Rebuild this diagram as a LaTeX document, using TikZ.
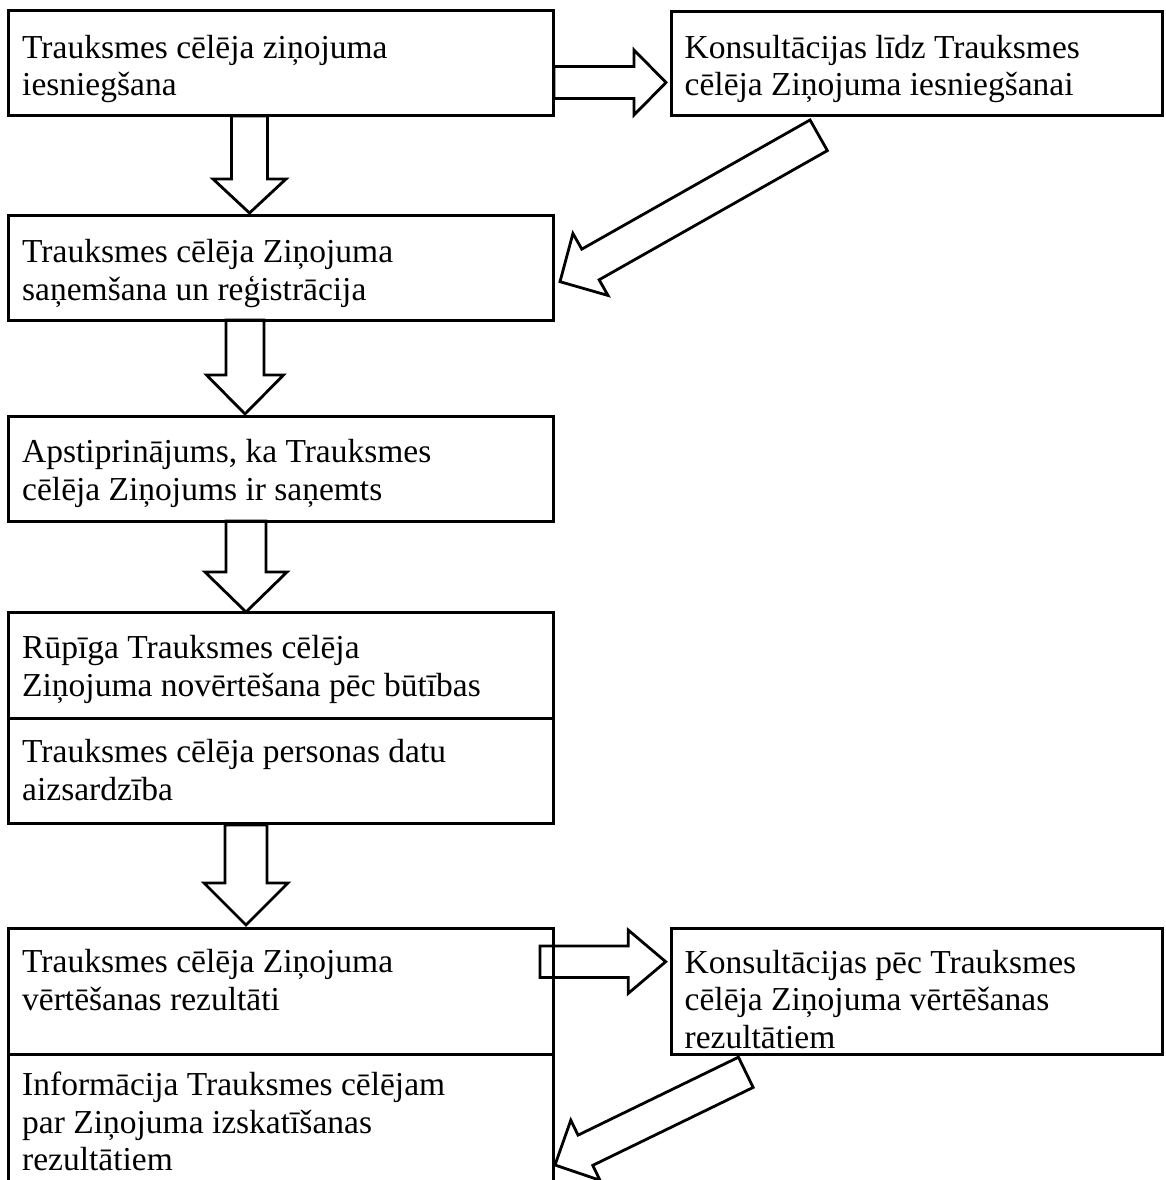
\documentclass[tikz,border=0pt]{standalone}
\usepackage{fontspec}
\setmainfont{Liberation Serif}
\usetikzlibrary{calc,positioning,backgrounds}

\tikzset{
  box/.style={draw, line width=3pt, inner sep=0pt, outer sep=0pt, anchor=north west, minimum width=545pt},
  boxtext/.style={anchor=base west, inner sep=0pt, align=left, font=\fontsize{33.5}{37.5}\selectfont},
  blockarr/.style={draw, fill=white, line width=2.8pt, line join=miter},
}

% tail, tip, half shaft width, half head width, head length
\newcommand{\blockarrow}[5]{%
  \coordinate (hb) at ($(#2)!#5!(#1)$);
  \draw[blockarr] ($(#1)!#3!90:(#2)$) -- ($(hb)!#3!90:(#2)$) -- ($(hb)!#4!90:(#2)$) -- (#2)
    -- ($(hb)!#4!-90:(#2)$) -- ($(hb)!#3!-90:(#2)$) -- ($(#1)!#3!-90:(#2)$) -- cycle;
}

\begin{document}
\begin{tikzpicture}[x=1pt,y=-1pt]
    \useasboundingbox (0,0) rectangle (1165,1180);
    \clip (0,0) rectangle (1165,1180);
    % boxes
    \node[box, minimum height=105pt] (b1) at (8,11) {};
    \node[box, minimum width=491pt, minimum height=104pt] (b2) at (671,12) {};
    \node[box, minimum height=105pt] (b3) at (8,215) {};
    \node[box, minimum height=105pt] (b4) at (8,416) {};
    \node[box, minimum height=106pt] (b5a) at (8,612) {};
    \node[box, minimum height=105pt] (b5b) at (8,718) {};
    \node[box, minimum height=126pt] (b6a) at (8,928) {};
    \node[box, minimum height=200pt] (b6b) at (8,1054) {};
    \node[box, minimum width=491pt, minimum height=126pt] (b7) at (671,928) {};
    % texts (base = last line)
    \node[boxtext] (t1) at ($(b1.north west)+(14,85)$) {Trauksmes cēlēja ziņojuma\\iesniegšana};
    \node[boxtext] (t2) at ($(b2.north west)+(13.5,84)$) {Konsultācijas līdz Trauksmes\\cēlēja Ziņojuma iesniegšanai};
    \node[boxtext] (t3) at ($(b3.north west)+(14,85)$) {Trauksmes cēlēja Ziņojuma\\saņemšana un reģistrācija};
    \node[boxtext] (t4) at ($(b4.north west)+(14,84)$) {Apstiprinājums, ka Trauksmes\\cēlēja Ziņojums ir saņemts};
    \node[boxtext] (t5a) at ($(b5a.north west)+(14,84)$) {Rūpīga Trauksmes cēlēja\\Ziņojuma novērtēšana pēc būtības};
    \node[boxtext] (t5b) at ($(b5b.north west)+(14,82)$) {Trauksmes cēlēja personas datu\\aizsardzība};
    \node[boxtext] (t6a) at ($(b6a.north west)+(14,82)$) {Trauksmes cēlēja Ziņojuma\\vērtēšanas rezultāti};
    \node[boxtext] (t7) at ($(b7.north west)+(13.5,120)$) {Konsultācijas pēc Trauksmes\\cēlēja Ziņojuma vērtēšanas\\rezultātiem};
    \node[boxtext] (t6b) at ($(b6b.north west)+(14,116.5)$) {Informācija Trauksmes cēlējam\\par Ziņojuma izskatīšanas\\rezultātiem};
    % arrow ends
    \coordinate (a1s) at ($(b1.south west)+(241.5,0)$);
    \coordinate (a1e) at ($(b3.north west)+(241.5,-2)$);
    \coordinate (a2s) at ($(b3.south west)+(237,0)$);
    \coordinate (a2e) at ($(b4.north west)+(237,-2)$);
    \coordinate (a3s) at ($(b4.south west)+(238,0)$);
    \coordinate (a3e) at ($(b5a.north west)+(238,0)$);
    \coordinate (a4s) at ($(b5b.south west)+(238,2)$);
    \coordinate (a4e) at ($(b6a.north west)+(238,-3)$);
    \coordinate (r1s) at ($(b1.north east)+(1,71.5)$);
    \coordinate (r1e) at ($(b2.north west)+(-5,70.5)$);
    \coordinate (r2s) at ($(b6a.north east)+(-13,33.7)$);
    \coordinate (r2e) at ($(b7.north west)+(-5.3,33.7)$);
    \coordinate (d1s) at ($(b2.south west)+(147.7,19.3)$);
    \coordinate (d1e) at ($(b3.north east)+(7,66.7)$);
    \coordinate (d2s) at ($(b7.south west)+(74.8,18.3)$);
    \coordinate (d2e) at ($(b6b.north east)+(2,111)$);
    % block arrows
    \begin{scope}[on background layer]
      \blockarrow{a1s}{a1e}{18pt}{36.5pt}{34pt}
      \blockarrow{a2s}{a2e}{19pt}{38.5pt}{39pt}
      \blockarrow{a3s}{a3e}{20pt}{41pt}{40pt}
      \blockarrow{a4s}{a4e}{21pt}{42pt}{42pt}
      \blockarrow{r1s}{r1e}{16pt}{32.5pt}{32pt}
      \blockarrow{r2s}{r2e}{15.7pt}{31.7pt}{37.5pt}
      \blockarrow{d1s}{d1e}{17.6pt}{35.6pt}{35pt}
      \blockarrow{d2s}{d2e}{16.8pt}{33.4pt}{33.8pt}
    \end{scope}
\end{tikzpicture}
\end{document}
